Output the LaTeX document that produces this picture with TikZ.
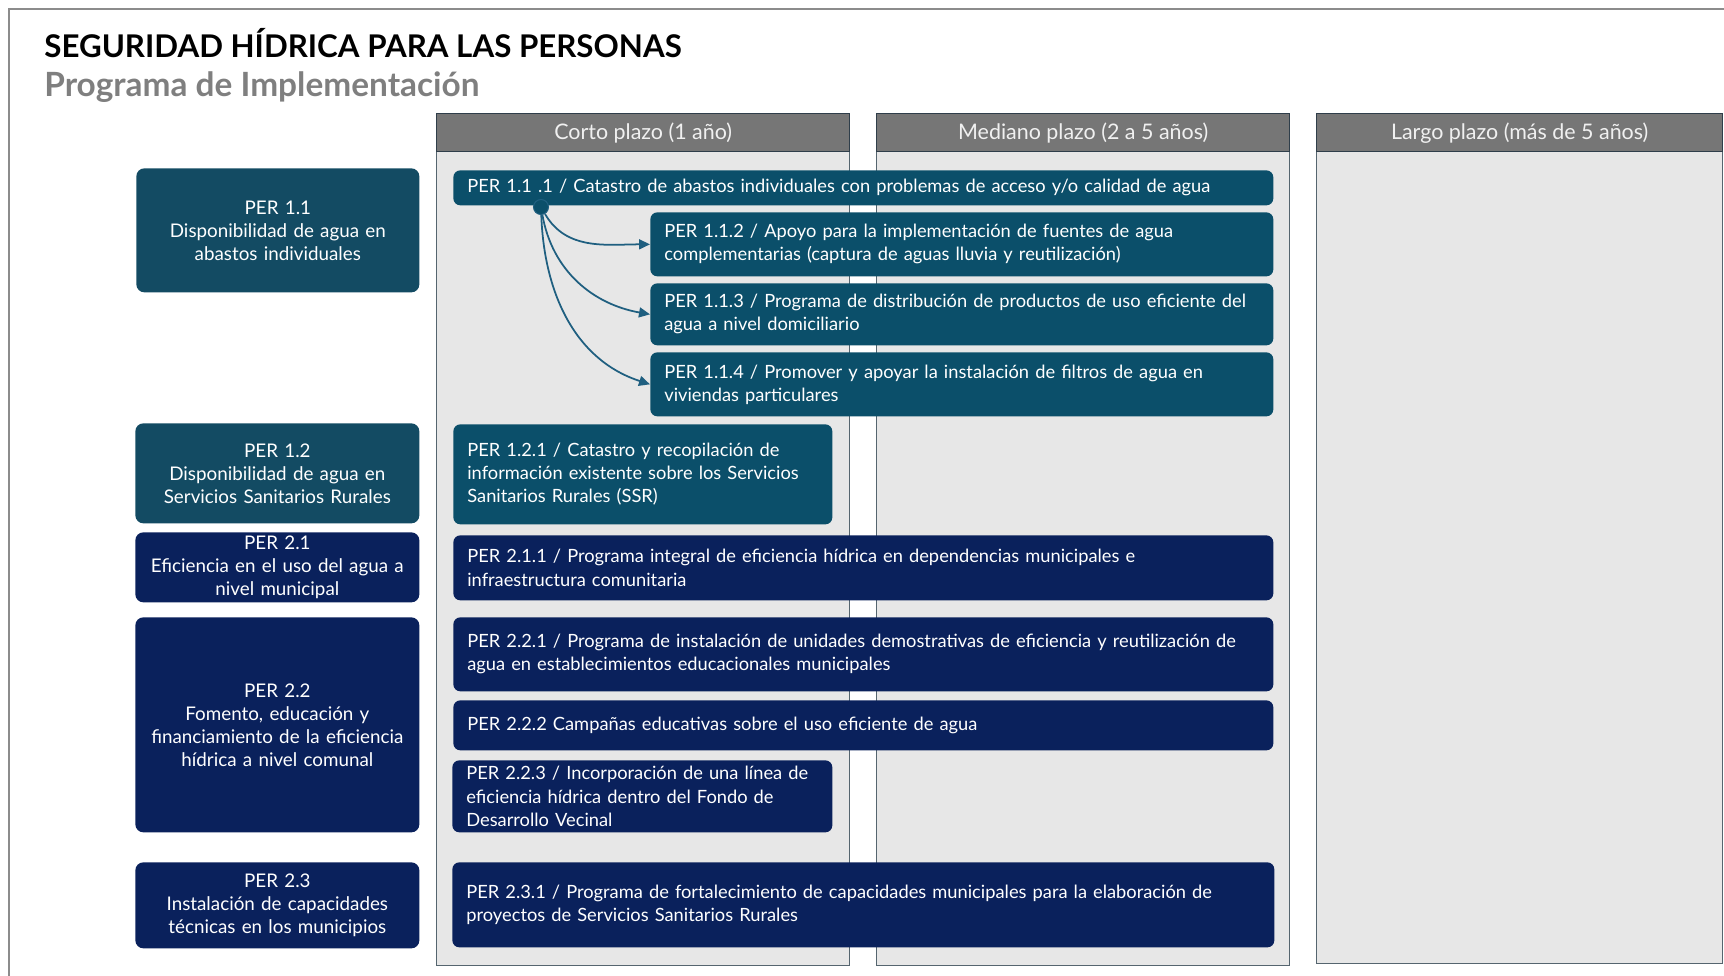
\documentclass[tikz,border=0pt]{standalone}
\usepackage{fontspec}
\setmainfont{Lato}
\usepackage{xcolor}
\usepackage{tikz}
\usetikzlibrary{positioning,arrows.meta}

\definecolor{tealgoal}{HTML}{134B63}
\definecolor{tealtask}{HTML}{0B4F6A}
\definecolor{navytask}{HTML}{0A215C}
\definecolor{linkblue}{HTML}{1F5F80}
\definecolor{hdrfill}{HTML}{767676}
\definecolor{hdrline}{HTML}{2F3E4A}
\definecolor{colfill}{HTML}{E7E7E7}
\definecolor{colline}{HTML}{55656F}
\definecolor{subgray}{HTML}{7F7F7F}
\definecolor{framegray}{HTML}{8C8C8C}

\begin{document}
\begin{tikzpicture}[
		goal/.style={font=\fontsize{10.7}{13.1}\selectfont, text=white, anchor=north west, rounded corners=0.16cm, align=center, inner xsep=0.2cm, inner ysep=0pt},
		task/.style={font=\fontsize{10.4}{13.1}\selectfont, text=white, anchor=north west, rounded corners=0.14cm, align=left, inner xsep=0.28cm, inner ysep=0pt},
		header/.style={anchor=north west, fill=hdrfill, draw=hdrline, line width=0.8pt, text=white!94!black, font=\fontsize{12.2}{14}\selectfont, minimum height=0.76cm, inner sep=0pt},
		column/.style={anchor=north west, fill=colfill, draw=colline, line width=0.8pt, inner sep=0pt},
		link/.style={-{Triangle[length=2.2mm,width=2mm]}, linkblue, line width=1pt},
	]
		\useasboundingbox (0, 0) rectangle (34.48, -19.52);

		% marco
		\draw[framegray, line width=1.1pt] (0.18, -19.52) -- (0.18, -0.18) -- (34.48, -0.18);

		% titulo
		\node[anchor=base west, inner sep=0pt, font=\bfseries\fontsize{17.8}{21}\selectfont] (title) at (0.88, -1.16) {SEGURIDAD HÍDRICA PARA LAS PERSONAS};
		\node[anchor=base west, inner sep=0pt, text=subgray, font=\bfseries\fontsize{19}{22}\selectfont] (subtitle) at (0.88, -1.94) {Programa de Implementación};

		% columnas de plazo
		\node[column, minimum width=8.26cm, minimum height=16.28cm] (col1) at (8.72, -3.02) {};
		\node[column, minimum width=8.26cm, minimum height=16.28cm] (col2) at (17.52, -3.02) {};
		\node[column, minimum width=8.12cm, minimum height=16.24cm] (col3) at (26.32, -3.02) {};
		\node[header, minimum width=8.26cm] (hdr1) at (8.72, -2.26) {Corto plazo (1 año)};
		\node[header, minimum width=8.26cm] (hdr2) at (17.52, -2.26) {Mediano plazo (2 a 5 años)};
		\node[header, minimum width=8.12cm] (hdr3) at (26.32, -2.26) {Largo plazo (más de 5 años)};

		% lineas de accion
		\node[goal, fill=tealgoal, minimum width=5.66cm, minimum height=2.48cm, text width=5.26cm] (per11) at (2.72, -3.36) {PER 1.1\\Disponibilidad de agua en\\abastos individuales};
		\node[goal, fill=tealgoal, minimum width=5.68cm, minimum height=2.00cm, text width=5.28cm] (per12) at (2.70, -8.46) {PER 1.2\\Disponibilidad de agua en\\Servicios Sanitarios Rurales};
		\node[goal, fill=navytask, minimum width=5.68cm, minimum height=1.40cm, text width=5.28cm] (per21) at (2.70, -10.64) {PER 2.1\\Eficiencia en el uso del agua a\\nivel municipal};
		\node[goal, fill=navytask, minimum width=5.68cm, minimum height=4.30cm, text width=5.28cm] (per22) at (2.70, -12.34) {PER 2.2\\Fomento, educación y\\financiamiento de la eficiencia\\hídrica a nivel comunal};
		\node[goal, fill=navytask, minimum width=5.68cm, minimum height=1.72cm, text width=5.28cm] (per23) at (2.70, -17.24) {PER 2.3\\Instalación de capacidades\\técnicas en los municipios};

		% medidas
		\node[task, fill=tealtask, minimum width=16.40cm, minimum height=0.70cm, text width=15.84cm] (per111) at (9.06, -3.40) {PER 1.1 .1 / Catastro de abastos individuales con problemas de acceso y/o calidad de agua};
		\node[task, fill=tealtask, minimum width=12.46cm, minimum height=1.28cm, text width=11.90cm] (per112) at (13.00, -4.24) {PER 1.1.2 / Apoyo para la implementación de fuentes de agua\\complementarias (captura de aguas lluvia y reutilización)};
		\node[task, fill=tealtask, minimum width=12.46cm, minimum height=1.24cm, text width=11.90cm] (per113) at (13.00, -5.66) {PER 1.1.3 / Programa de distribución de productos de uso eficiente del\\agua a nivel domiciliario};
		\node[task, fill=tealtask, minimum width=12.46cm, minimum height=1.28cm, text width=11.90cm] (per114) at (13.00, -7.04) {PER 1.1.4 / Promover y apoyar la instalación de filtros de agua en\\viviendas particulares};
		\node[task, fill=tealtask, minimum width=7.58cm, minimum height=2.00cm, text width=7.02cm] (per121) at (9.06, -8.48) {PER 1.2.1 / Catastro y recopilación de\\información existente sobre los Servicios\\Sanitarios Rurales (SSR)};
		\node[task, fill=navytask, minimum width=16.40cm, minimum height=1.30cm, text width=15.84cm] (per211) at (9.06, -10.70) {PER 2.1.1 / Programa integral de eficiencia hídrica en dependencias municipales e\\infraestructura comunitaria};
		\node[task, fill=navytask, minimum width=16.40cm, minimum height=1.48cm, text width=15.84cm] (per221) at (9.06, -12.34) {PER 2.2.1 / Programa de instalación de unidades demostrativas de eficiencia y reutilización de\\agua en establecimientos educacionales municipales};
		\node[task, fill=navytask, minimum width=16.40cm, minimum height=1.00cm, text width=15.84cm] (per222) at (9.06, -14.00) {PER 2.2.2 Campañas educativas sobre el uso eficiente de agua};
		\node[task, fill=navytask, minimum width=7.60cm, minimum height=1.44cm, text width=7.04cm] (per223) at (9.04, -15.20) {PER 2.2.3 / Incorporación de una línea de\\eficiencia hídrica dentro del Fondo de\\Desarrollo Vecinal};
		\node[task, fill=navytask, minimum width=16.44cm, minimum height=1.70cm, text width=15.88cm] (per231) at (9.04, -17.24) {PER 2.3.1 / Programa de fortalecimiento de capacidades municipales para la elaboración de\\proyectos de Servicios Sanitarios Rurales};

		% conectores
		\node[circle, fill=tealtask, draw=linkblue, line width=0.6pt, minimum size=0.3cm, inner sep=0pt] (hub) at (10.82, -4.14) {};
		\draw[link] (hub) to[out=-60, in=180] (per112.west);
		\draw[link] (hub) to[out=-80, in=170] (per113.west);
		\draw[link] (hub) to[out=-88, in=162] (per114.west);
	\end{tikzpicture}
\end{document}
